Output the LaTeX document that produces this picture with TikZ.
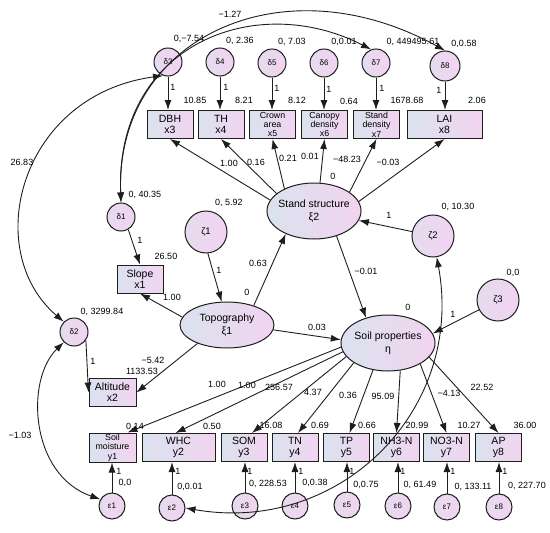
\documentclass[tikz,border=0pt]{standalone}
\usepackage{fontspec}
\setmainfont{Liberation Sans}
\usetikzlibrary{arrows.meta,shapes.geometric}
\definecolor{cA}{RGB}{218,226,238}
\definecolor{cB}{RGB}{242,212,240}
\definecolor{ln}{RGB}{30,30,30}
\begin{document}
\begin{tikzpicture}[x=1pt,y=-1pt,
 obs/.style={draw=ln, line width=1pt, left color=cA, right color=cB, minimum width=46pt, minimum height=28pt, inner sep=1pt, align=center, font=\fontsize{10.5}{11}\selectfont},
 obss/.style={obs, font=\fontsize{8.8}{9.4}\selectfont},
 lat/.style={ellipse, draw=ln, line width=1pt, left color=cA, right color=cB, minimum width=94pt, minimum height=56pt, inner xsep=-8pt, inner ysep=0pt, align=center, font=\fontsize{10.5}{13}\selectfont},
 err/.style={circle, draw=ln, line width=1pt, left color=cA!50!cB, right color=cB, minimum size=28pt, inner sep=0pt, font=\fontsize{8}{8}\selectfont},
 dist/.style={err, minimum size=42pt, font=\fontsize{9.5}{9.5}\selectfont},
 lab/.style={inner sep=0pt, font=\fontsize{9}{9}\selectfont},
 arr/.style={draw=ln, line width=0.9pt, -{Latex[length=10pt,width=7pt]}},
 barr/.style={draw=ln, line width=0.9pt, {Latex[length=10pt,width=7pt]}-{Latex[length=10pt,width=7pt]}},
]
\useasboundingbox (0,0) rectangle (550,533);

% ---------- top error terms and indicators
\node[err] (d3) at (168,62) {δ3};
\node[err] (d4) at (220,62) {δ4};
\node[err] (d5) at (272,63) {δ5};
\node[err] (d6) at (324,63) {δ6};
\node[err] (d7) at (376,63) {δ7};
\node[err, minimum size=30pt] (d8) at (445,66) {δ8};
\node[obs] (x3) at (170,124.5) {DBH\\x3};
\node[obs] (x4) at (221,124.5) {TH\\x4};
\node[obss] (x5) at (272.5,124.5) {Crown\\area\\x5};
\node[obss] (x6) at (324.5,124.5) {Canopy\\density\\x6};
\node[obss] (x7) at (376.5,124.5) {Stand\\density\\x7};
\node[obs, minimum width=75pt] (x8) at (444.5,124.5) {LAI\\x8};

% ---------- latent variables
\node[lat] (xi2) at (314,211) {Stand structure\\ξ2};
\node[dist] (z2) at (433,236) {ζ2};
\node[dist] (z1) at (206,232) {ζ1};
\node[err] (d1) at (121,217) {δ1};
\node[obs] (x1) at (140,279) {Slope\\x1};
\node[lat, minimum height=46pt] (xi1) at (227,325) {Topography\\ξ1};
\node[err] (d2) at (74,332) {δ2};
\node[obs, minimum width=47pt] (x2) at (112.5,392.5) {Altitude\\x2};
\node[lat] (eta) at (388,343) {Soil properties\\η};
\node[dist] (z3) at (498,300) {ζ3};

% ---------- bottom indicators
\node[obss, minimum width=47pt] (y1) at (112.5,447.5) {Soil\\moisture\\y1};
\node[obs, minimum width=73pt] (y2) at (178.5,447.5) {WHC\\y2};
\node[obs] (y3) at (244,447.5) {SOM\\y3};
\node[obs] (y4) at (295,447.5) {TN\\y4};
\node[obs] (y5) at (346.5,447.5) {TP\\y5};
\node[obs] (y6) at (396.5,447.5) {NH3-N\\y6};
\node[obs] (y7) at (446.5,447.5) {NO3-N\\y7};
\node[obs] (y8) at (498.5,447.5) {AP\\y8};
\node[err, minimum size=26pt] (e1) at (112,506) {ε1};
\node[err, minimum size=26pt] (e2) at (172,508) {ε2};
\node[err, minimum size=26pt] (e3) at (245,506) {ε3};
\node[err, minimum size=26pt] (e4) at (295,506) {ε4};
\node[err, minimum size=26pt] (e5) at (347,505) {ε5};
\node[err, minimum size=26pt] (e6) at (398,506) {ε6};
\node[err, minimum size=26pt] (e7) at (447,507) {ε7};
\node[err, minimum size=26pt] (e8) at (499,507) {ε8};

% ---------- straight arrows
\foreach \d/\x in {d3/x3,d4/x4,d5/x5,d6/x6,d7/x7,d8/x8}
  \draw[arr] (\d) -- (\d |- \x.north);
\foreach \e/\y in {e1/y1,e2/y2,e3/y3,e4/y4,e5/y5,e6/y6,e7/y7,e8/y8}
  \draw[arr] (\e) -- (\e |- \y.south);
\draw[arr] (xi2.166) -- (x3.south);
\draw[arr] (xi2.155) -- (x4.south);
\draw[arr] (xi2.143) -- (x5.south);
\draw[arr] (xi2.78) -- (x6.south);
\draw[arr] (xi2.28) -- (x7.south);
\draw[arr] (xi2.12) -- (x8.south);
\draw[arr] (z2) -- (xi2);
\draw[arr] (z1.-85) -- (xi1.103);
\draw[arr] (d1.-60) -- (x1.north);
\draw[arr] (d2.-35) -- (x2.west);
\draw[arr] (xi1.170) -- (x1.south);
\draw[arr] (xi1.212) -- (x2.east);
\draw[arr] (xi1.36) -- (xi2.219);
\draw[arr] (xi1.-6) -- (eta.176);
\draw[arr] (xi2.-48) -- (eta.131);
\draw[arr] (z3) -- (eta.12);
\draw[arr] (eta.185) -- ([xshift=15pt]y1.north);
\draw[arr] (eta.191) -- ([xshift=-3pt]y2.north);
\draw[arr] (eta.198) -- ([xshift=8pt]y3.north);
\draw[arr] (eta.210) -- ([xshift=3pt]y4.north);
\draw[arr] (eta.241) -- ([xshift=3pt]y5.north);
\draw[arr] (eta.294) -- (y6.north);
\draw[arr] (eta.327) -- (y7.north);
\draw[arr] (eta.341) -- (y8.north);

% ---------- curved covariances
\draw[barr] (d2.135) .. controls (-20,250) and (20,95) .. (d3.250);
\draw[barr] (d2.225) .. controls (25,380) and (30,475) .. (e1.150);
\draw[barr] (d1.north) .. controls (115,40) and (280,-40) .. (d8.north);
\draw[barr] (d1.north) .. controls (115,45) and (255,-10) .. (d7.110);
\draw[barr] (e2.east) .. controls (340,535) and (465,410) .. (z2.-80);

% ---------- labels
\node[lab] (L1) at (230,14) {−1.27};
\node[lab] (L2) at (189,39) {0,−7.54};
\node[lab] (L3) at (240,41) {0, 2.36};
\node[lab] (L4) at (292,42) {0, 7.03};
\node[lab] (L5) at (344,42) {0,0.01};
\node[lab] (L6) at (413,42) {0, 449495.61};
\node[lab] (L7) at (464,44) {0,0.58};
\node[lab] (L8) at (173,87) {1};
\node[lab] (L9) at (226,87) {1};
\node[lab] (L10) at (277,88) {1};
\node[lab] (L11) at (329,89) {1};
\node[lab] (L12) at (382,88) {1};
\node[lab] (L13) at (439,90) {1};
\node[lab] (L14) at (195,100) {10.85};
\node[lab] (L15) at (244,100) {8.21};
\node[lab] (L16) at (297,100) {8.12};
\node[lab] (L17) at (349,101) {0.64};
\node[lab] (L18) at (407,100) {1678.68};
\node[lab] (L19) at (477,100) {2.06};
\node[lab] (L20) at (229,163) {1.00};
\node[lab] (L21) at (256,162) {0.16};
\node[lab] (L22) at (288,158) {0.21};
\node[lab] (L23) at (310,156) {0.01};
\node[lab] (L24) at (347,159) {−48.23};
\node[lab] (L25) at (388,162) {−0.03};
\node[lab] (L26) at (333,176) {0};
\node[lab] (L27) at (22,162) {26.83};
\node[lab] (L28) at (145,195) {0, 40.35};
\node[lab] (L29) at (229,203) {0, 5.92};
\node[lab] (L30) at (458,207) {0, 10.30};
\node[lab] (L31) at (389,215) {1};
\node[lab] (L32) at (140,240) {1};
\node[lab] (L33) at (166,256) {26.50};
\node[lab] (L34) at (219,270) {1};
\node[lab] (L35) at (258,263) {0.63};
\node[lab] (L36) at (366,271) {−0.01};
\node[lab] (L37) at (513,273) {0,0};
\node[lab] (L38) at (172,297) {1.00};
\node[lab] (L39) at (247,292) {0};
\node[lab] (L40) at (102,312) {0, 3299.84};
\node[lab] (L41) at (408,307) {0};
\node[lab] (L42) at (453,314) {1};
\node[lab] (L43) at (317,327) {0.03};
\node[lab] (L44) at (93,361) {1};
\node[lab] (L45) at (153,360) {−5.42};
\node[lab] (L46) at (142,371) {1133.53};
\node[lab] (L47) at (217,384) {1.00};
\node[lab] (L48) at (247,385) {1.00};
\node[lab] (L49) at (279,387) {256.57};
\node[lab] (L50) at (313,392) {4.37};
\node[lab] (L51) at (348,395) {0.36};
\node[lab] (L52) at (383,396) {95.09};
\node[lab] (L53) at (449,393) {−4.13};
\node[lab] (L54) at (482,387) {22.52};
\node[lab] (L55) at (20,435) {−1.03};
\node[lab] (L56) at (135,426) {0.14};
\node[lab] (L57) at (212,426) {0.50};
\node[lab] (L58) at (271,425) {16.08};
\node[lab] (L59) at (320,425) {0.69};
\node[lab] (L60) at (367,425) {0.66};
\node[lab] (L61) at (417,425) {20.99};
\node[lab] (L62) at (469,425) {10.27};
\node[lab] (L63) at (525,425) {36.00};
\foreach \x in {119,178,250,301,352,403,453,505}
  \node[lab] at (\x,471) {1};
\node[lab] (L64) at (125,483) {0,0};
\node[lab] (L65) at (190,487) {0,0.01};
\node[lab] (L66) at (268,484) {0, 228.53};
\node[lab] (L67) at (315,483) {0,0.38};
\node[lab] (L68) at (366,485) {0,0.75};
\node[lab] (L69) at (420,485) {0, 61.49};
\node[lab] (L70) at (473,487) {0, 133.11};
\node[lab] (L71) at (527,486) {0, 227.70};
\end{tikzpicture}
\end{document}
